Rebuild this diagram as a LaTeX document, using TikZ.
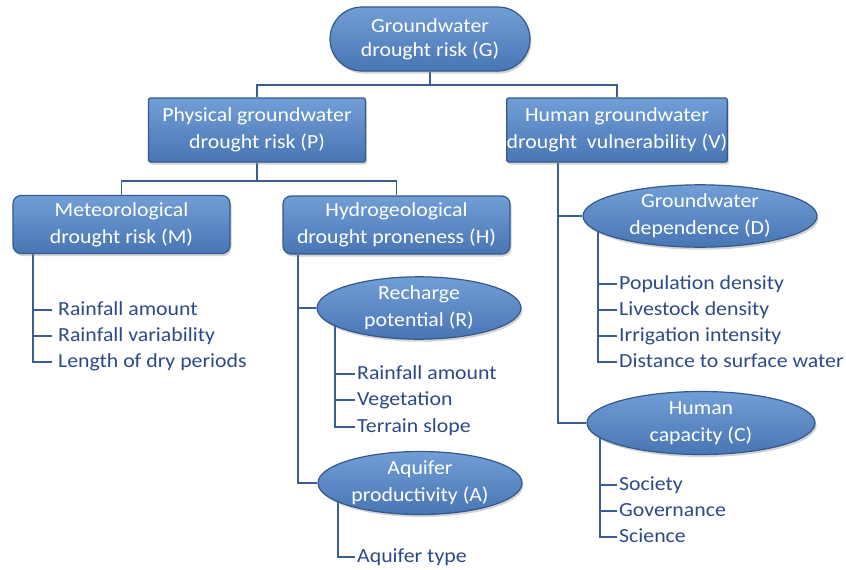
\documentclass[tikz,border=0pt]{standalone}
\usepackage{fontspec}
\setmainfont{Carlito}[FakeStretch=1.09]
\usetikzlibrary{shadows,shapes.geometric,backgrounds}
\definecolor{boxtop}{RGB}{114,158,214}
\definecolor{boxbot}{RGB}{72,118,180}
\definecolor{boxline}{RGB}{52,88,140}
\definecolor{connc}{RGB}{58,94,148}
\definecolor{itemc}{RGB}{44,74,134}
\begin{document}
\begin{tikzpicture}[x=1pt,y=-1pt,
  box/.style={draw=boxline, line width=1.2pt, top color=boxtop, bottom color=boxbot,
    text=white, align=center, font=\fontsize{20}{27}\selectfont, inner sep=0pt,
    drop shadow={opacity=0.35, shadow xshift=1.5pt, shadow yshift=-2.5pt}},
  rbox/.style={box, rectangle},
  ebox/.style={box, ellipse},
  item/.style={anchor=west, text=itemc, font=\fontsize{20}{24}\selectfont,
    inner ysep=0pt, inner xsep=2pt, text height=14pt, text depth=4pt},
  conn/.style={draw=connc, line width=1.8pt}]
\useasboundingbox (0,0) rectangle (846,570);

% main nodes
\node[rbox, rounded corners=32pt, minimum width=200pt, minimum height=64pt, font=\fontsize{20}{24}\selectfont] (G) at (430,39) {Groundwater\\drought risk (G)};
\node[rbox, rounded corners=2pt, minimum width=217pt, minimum height=64pt] (P) at (257,130) {Physical groundwater\\drought risk (P)};
\node[rbox, rounded corners=2pt, minimum width=215pt, minimum height=64pt] (V) at (617,130) {Human groundwater\\drought\ \ vulnerability (V)};
\node[rbox, rounded corners=8pt, minimum width=217pt, minimum height=58pt] (M) at (121.5,224.5) {Meteorological\\drought risk (M)};
\node[rbox, rounded corners=8pt, minimum width=227pt, minimum height=58pt] (H) at (396.5,225) {Hydrogeological\\drought proneness (H)};
\node[ebox, minimum width=204pt, minimum height=57pt] (R) at (419,308) {Recharge\\potential (R)};
\node[ebox, minimum width=204pt, minimum height=63pt] (A) at (420,483) {Aquifer\\productivity (A)};
\node[ebox, minimum width=234pt, minimum height=58pt] (D) at (700,216) {Groundwater\\dependence (D)};
\node[ebox, minimum width=228pt, minimum height=63pt] (C) at (701,423) {Human\\capacity (C)};

% bar coordinates
\coordinate (mbar) at (33,0);
\coordinate (hbar) at (298,0);
\coordinate (rbar) at (335,0);
\coordinate (abar) at (338,0);
\coordinate (vbar) at (558,0);
\coordinate (dbar) at (598,0);
\coordinate (cbar) at (600,0);

% items
\node[item, inner xsep=6pt] (m1) at (52,310) {Rainfall amount};
\node[item, inner xsep=6pt] (m2) at (52,336) {Rainfall variability};
\node[item, inner xsep=6pt] (m3) at (52,362) {Length of dry periods};
\node[item] (r1) at (355,374) {Rainfall amount};
\node[item] (r2) at (355,400) {Vegetation};
\node[item] (r3) at (355,427) {Terrain slope};
\node[item] (a1) at (355,557) {Aquifer type};
\node[item] (d1) at (617,284) {Population density};
\node[item] (d2) at (617,310) {Livestock density};
\node[item] (d3) at (617,336) {Irrigation intensity};
\node[item] (d4) at (617,362) {Distance to surface water};
\node[item] (c1) at (617,485) {Society};
\node[item] (c2) at (617,511) {Governance};
\node[item] (c3) at (617,537) {Science};

\begin{pgfonlayer}{background}
\draw[conn] (G.south) -- ++(0,13) -| (P.north);
\draw[conn] (G.south) -- ++(0,13) -| (V.north);
\draw[conn] (P.south) -- ++(0,18) -| (M.north);
\draw[conn] (P.south) -- ++(0,18) -| (H.north);
\foreach \i in {1,2,3} \draw[conn] (M.south -| mbar) |- (m\i.west);
\draw[conn] (H.south -| hbar) |- (R.west);
\draw[conn] (H.south -| hbar) |- (A.west);
\foreach \i in {1,2,3} \draw[conn] (R.center -| rbar) |- (r\i.west);
\draw[conn] (A.center -| abar) |- (a1.west);
\draw[conn] (V.south -| vbar) |- (D.west);
\draw[conn] (V.south -| vbar) |- (C.west);
\foreach \i in {1,2,3,4} \draw[conn] (D.center -| dbar) |- (d\i.west);
\foreach \i in {1,2,3} \draw[conn] (C.center -| cbar) |- (c\i.west);
\end{pgfonlayer}
\end{tikzpicture}
\end{document}
